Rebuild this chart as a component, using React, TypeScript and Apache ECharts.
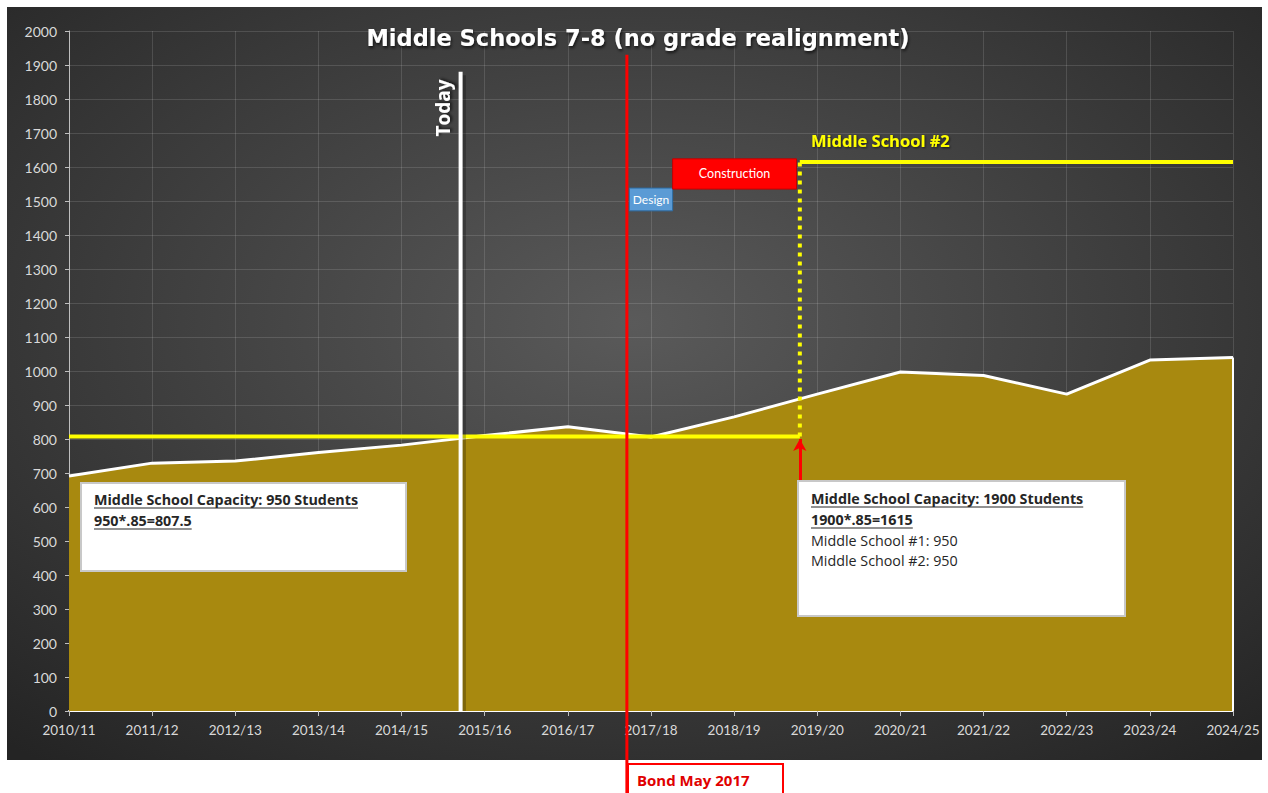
import React, { useEffect, useRef } from "react";
import * as echarts from "echarts";

const years = ["2010/11","2011/12","2012/13","2013/14","2014/15","2015/16","2016/17","2017/18","2018/19","2019/20","2020/21","2021/22","2022/23","2023/24","2024/25"];
const enrollment = [691, 729, 735, 760, 782, 810, 836, 806, 865, 932, 997, 987, 932, 1032, 1040];
const capacityNow = 807.5;
const capacityAfter = 1615;
const openPos = 8.79; // position (in school years from 2010/11) where Middle School #2 opens
const todayPos = 4.71;
const bondPos = 6.71;
const todayTop = 1880;
const bondTop = 1930;
const bondBottom = -241;
const designSpan = [6.74, 7.26];
const designRange = [1471, 1538];
const constructionSpan = [7.26, 8.75];
const constructionRange = [1535, 1624];
const arrowRange = [676, 800];
const yTicks = { min: 0, max: 2000, interval: 100 };

const FONT = "Lato, 'Open Sans', sans-serif";

function measure(text: string, font: string): number {
  const c = document.createElement("canvas").getContext("2d");
  if (!c) return text.length * 7;
  c.font = font;
  return c.measureText(text).width;
}

function textLine(x: number, y: number, text: string, bold: boolean, underline: boolean) {
  const font = `${bold ? "bold " : ""}14.3px 'Open Sans'`;
  const els: any[] = [
    {
      type: "text",
      z: 101,
      x, y,
      style: { text, fill: "#262626", font, textAlign: "left", textVerticalAlign: "middle" },
    },
  ];
  if (underline) {
    const w = measure(text, font);
    els.push({
      type: "line",
      z: 101,
      shape: { x1: x, y1: y + 9, x2: x + w, y2: y + 9 },
      style: { stroke: "#262626", lineWidth: 1.2 },
    });
  }
  return els;
}

const shadowText = {
  textShadowColor: "rgba(0,0,0,0.7)",
  textShadowBlur: 3,
  textShadowOffsetX: 1,
  textShadowOffsetY: 2,
};

export default function App() {
  const ref = useRef<HTMLDivElement>(null);
  useEffect(() => {
    if (!ref.current) return;
    const chart = echarts.init(ref.current, null, { renderer: "svg" });
    const last = years.length - 1;
    const option: any = {
      animation: false,
      backgroundColor: "#ffffff",
      grid: { left: 69, right: 35, top: 31, bottom: 82 },
      xAxis: [
        {
          type: "category",
          data: years,
          boundaryGap: false,
          axisLine: { show: true, lineStyle: { color: "#ffffff", width: 2 } },
          axisTick: { show: true, alignWithLabel: true, length: 5, lineStyle: { color: "#bfbfbf" } },
          axisLabel: { color: "#d9d9d9", fontSize: 13.5, fontFamily: FONT, margin: 12 },
          splitLine: { show: true, lineStyle: { color: "rgba(255,255,255,0.13)", width: 1 } },
        },
        { type: "value", min: 0, max: last, show: false },
      ],
      yAxis: {
        type: "value",
        min: yTicks.min,
        max: yTicks.max,
        interval: yTicks.interval,
        axisLine: { show: true, lineStyle: { color: "#bfbfbf", width: 1 } },
        axisTick: { show: true, length: 4, lineStyle: { color: "#bfbfbf" } },
        axisLabel: { color: "#d9d9d9", fontSize: 14, fontFamily: FONT, margin: 12, formatter: (v: number) => String(v) },
        splitLine: { show: true, lineStyle: { color: "rgba(255,255,255,0.13)", width: 1 } },
      },
      graphic: [
        {
          type: "rect",
          z: -100,
          shape: { x: 7, y: 7, width: 1255, height: 753 },
          style: {
            fill: new echarts.graphic.RadialGradient(0.5, 0.42, 0.75, [
              { offset: 0, color: "#5a5a5a" },
              { offset: 1, color: "#242424" },
            ]),
          },
        },
        {
          type: "text",
          z: 100,
          x: 638, y: 38,
          style: {
            text: "Middle Schools 7-8 (no grade realignment)",
            fill: "#ffffff",
            font: "bold 22.5px 'DejaVu Sans'",
            textAlign: "center",
            textVerticalAlign: "middle",
            ...shadowText,
          },
        },
        {
          type: "text",
          z: 100,
          x: 443, y: 108,
          rotation: Math.PI / 2,
          style: {
            text: "Today",
            fill: "#ffffff",
            font: "bold 19px 'Open Sans'",
            textAlign: "center",
            textVerticalAlign: "middle",
            ...shadowText,
          },
        },
        {
          type: "text",
          z: 100,
          x: 811, y: 140,
          style: {
            text: "Middle School #2",
            fill: "#ffff00",
            font: "bold 16.5px 'Open Sans'",
            textAlign: "left",
            textVerticalAlign: "middle",
            textShadowColor: "rgba(0,0,0,0.6)",
            textShadowBlur: 2,
            textShadowOffsetX: 1,
            textShadowOffsetY: 1,
          },
        },
        {
          type: "group",
          children: [
            {
              type: "rect",
              z: 100,
              shape: { x: 81, y: 483, width: 325, height: 88 },
              style: { fill: "#ffffff", stroke: "#c8c8c8", lineWidth: 2 },
            },
            ...textLine(94, 499, "Middle School Capacity: 950 Students", true, true),
            ...textLine(94, 520, "950*.85=807.5", true, true),
          ],
        },
        {
          type: "group",
          children: [
            {
              type: "rect",
              z: 100,
              shape: { x: 798, y: 481, width: 327, height: 135 },
              style: { fill: "#ffffff", stroke: "#c8c8c8", lineWidth: 2 },
            },
            ...textLine(811, 498, "Middle School Capacity: 1900 Students", true, true),
            ...textLine(811, 519, "1900*.85=1615", true, true),
            ...textLine(811, 540, "Middle School #1: 950", false, false),
            ...textLine(811, 560, "Middle School #2: 950", false, false),
          ],
        },
        {
          type: "group",
          children: [
            {
              type: "rect",
              z: 100,
              shape: { x: 628, y: 764, width: 155, height: 34 },
              style: { fill: "#ffffff", stroke: "#ff0000", lineWidth: 2 },
            },
            {
              type: "text",
              z: 101,
              x: 637, y: 780,
              style: {
                text: "Bond May 2017",
                fill: "#e00000",
                font: "bold 15px 'Open Sans'",
                textAlign: "left",
                textVerticalAlign: "middle",
              },
            },
          ],
        },
      ],
      series: [
        {
          name: "Enrollment",
          type: "line",
          data: enrollment,
          symbol: "none",
          lineStyle: { color: "#ffffff", width: 3 },
          areaStyle: { color: "#a8890f", opacity: 1 },
          z: 2,
          markLine: {
            silent: true,
            symbol: ["none", "none"],
            label: { show: false },
            lineStyle: { color: "#ffffff", width: 2, type: "solid" },
            data: [
              [{ coord: [years[last], 0] }, { coord: [years[last], enrollment[last]] }],
            ],
          },
        },
        {
          name: "Capacity (1 school)",
          type: "line",
          xAxisIndex: 1,
          data: [[0, capacityNow], [openPos, capacityNow]],
          symbol: "none",
          lineStyle: { color: "#ffff00", width: 4 },
          z: 5,
        },
        {
          name: "Opening",
          type: "line",
          xAxisIndex: 1,
          data: [[openPos, capacityNow], [openPos, capacityAfter]],
          symbol: "none",
          lineStyle: { color: "#ffff00", width: 4, type: [4, 5] },
          z: 5,
        },
        {
          name: "Capacity (2 schools)",
          type: "line",
          xAxisIndex: 1,
          data: [[openPos, capacityAfter], [last, capacityAfter]],
          symbol: "none",
          lineStyle: { color: "#ffff00", width: 4 },
          z: 5,
          markArea: {
            silent: true,
            data: [
              [
                {
                  coord: [designSpan[0], designRange[1]],
                  itemStyle: { color: "#5b9bd5", borderColor: "#2e6da4", borderWidth: 1 },
                  label: { show: true, position: "inside", formatter: "Design", color: "#ffffff", fontSize: 12, fontFamily: FONT },
                },
                { coord: [designSpan[1], designRange[0]] },
              ],
              [
                {
                  coord: [constructionSpan[0], constructionRange[1]],
                  itemStyle: { color: "#ff0000", borderColor: "#c00000", borderWidth: 1 },
                  label: { show: true, position: "inside", formatter: "Construction", color: "#ffffff", fontSize: 12.5, fontFamily: FONT },
                },
                { coord: [constructionSpan[1], constructionRange[0]] },
              ],
            ],
          },
          markLine: {
            silent: true,
            symbol: ["none", "arrow"],
            symbolSize: [10, 12],
            label: { show: false },
            lineStyle: { color: "#ff0000", width: 3, type: "solid" },
            data: [[{ coord: [openPos, arrowRange[0]] }, { coord: [openPos, arrowRange[1]] }]],
          },
        },
        {
          name: "Today shadow",
          type: "line",
          xAxisIndex: 1,
          data: [[todayPos + 0.04, 0], [todayPos + 0.04, todayTop - 10]],
          symbol: "none",
          clip: false,
          lineStyle: { color: "rgba(0,0,0,0.25)", width: 4 },
          z: 5,
        },
        {
          name: "Today",
          type: "line",
          xAxisIndex: 1,
          data: [[todayPos, 0], [todayPos, todayTop]],
          symbol: "none",
          clip: false,
          lineStyle: { color: "#ffffff", width: 4 },
          z: 6,
        },
        {
          name: "Bond May 2017",
          type: "line",
          xAxisIndex: 1,
          data: [[bondPos, bondBottom], [bondPos, bondTop]],
          symbol: "none",
          clip: false,
          lineStyle: { color: "#ff0000", width: 3 },
          z: 7,
        },
      ],
    };
    chart.setOption(option);
    return () => chart.dispose();
  }, []);
  return (
    <div
      ref={ref}
      style={{ position: "absolute", left: 0, top: 0, width: 1268, height: 793 }}
    />
  );
}
